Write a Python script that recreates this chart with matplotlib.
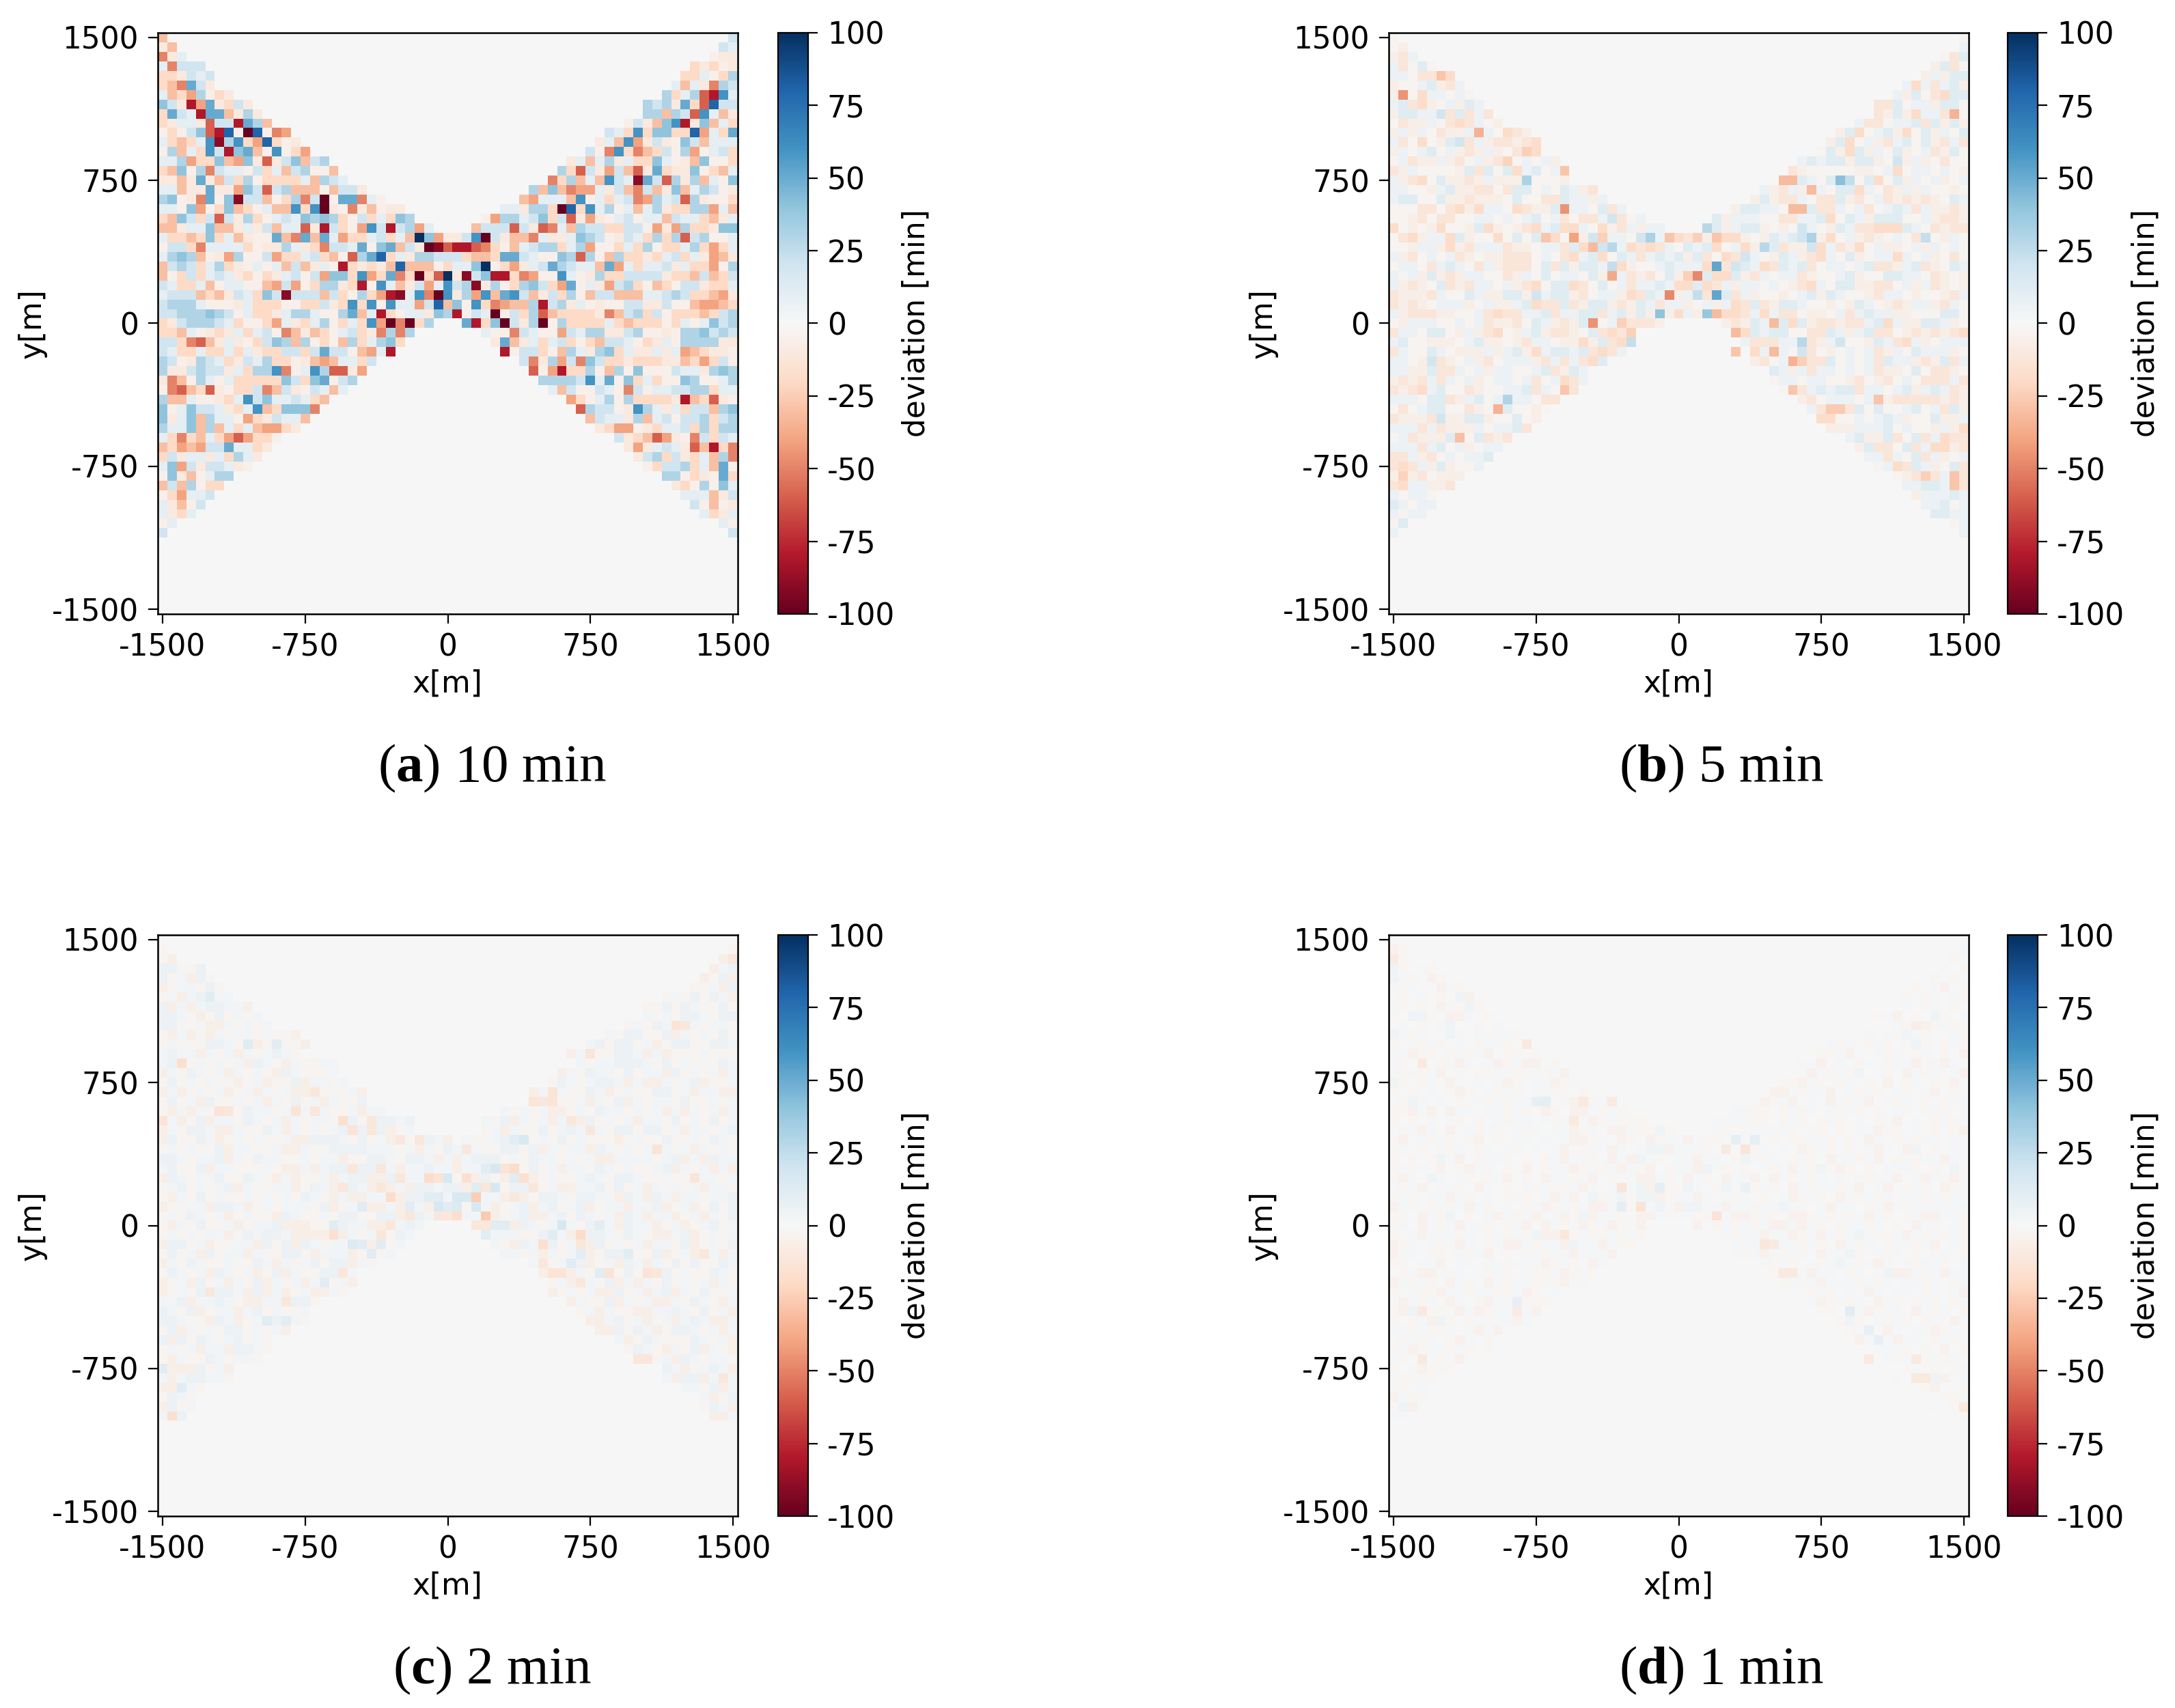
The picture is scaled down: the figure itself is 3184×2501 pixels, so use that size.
import numpy as np
import matplotlib
matplotlib.use("Agg")
import matplotlib.pyplot as plt

# grid of the simulated area: 61 x 61 cells of 50 m
N_CELLS = 61
EXTENT = [-1525, 1525, -1525, 1525]
POS_TICKS = [-1500, -750, 0, 750, 1500]
POS_LABELS = ["-1500", "-750", "0", "750", "1500"]
CBAR_TICKS = [-100, -75, -50, -25, 0, 25, 50, 75, 100]
CAPTIONS = [("a", "10 min"), ("b", "5 min"), ("c", "2 min"), ("d", "1 min")]

# deviation, one letter per cell, top row first
# "left|right" = cells from the left edge and the right edge, '.' = 0
NEG_LEVELS = dict(zip("abcdefghij", [-5, -10, -20, -30, -40, -50, -60, -80, -90, -100]))
POS_LEVELS = dict(zip("ABCDEFGHIJ", [5, 10, 20, 30, 40, 50, 60, 80, 90, 100]))

ROWS_10MIN = [
    "d|C", "bd|CB", "fbB|abb", "BfCCC|cbcab", "ccbCBC|ccBacD", "cdfFCb|BdBbfDC",
    "BdceDacb|DcBDghGB", "ECbheFbcCb|DCDbFcgHCC", "cFCBhFFdbDb|DDdDCgGBdb",
    "cbBBbgCChFDd|aCbdEGhbEdBc", "acaCEghHajHafe|CBcGcEEccHeBcF",
    "BcdcBGiDGceHcab|bBdGebCbaECdBBB", "aDdBcGChEFdaGace|CafGcfdcCaDeaBCc",
    "BBDeccEdeEbgbCEdCD|bBdBDbBccEBabdEaac", "cdEaDfCBBaCcBdCDaad|DcgCbeCdgbFcbbEacdB",
    "bbdbFbdCcDaccccBdDCB|fcDdBdGCBiFCgDbDdBaE", "BBdbbFbbeECgCDdddadCCb|DdEdfeeBbCdfCdbEdBDCab",
    "DEabfFaEiCCdacDfCjaFFfBa|deBBBdGaBcBCfeDBCgDbaac",
    "BBaEeacEdcaBddGcGjbafbdabb|BBbDDcjHcGBDaBdBDbccDDeBd",
    "cdECcCgCbDcaBCBEDEDcaCcBcED|aeDDBCEcCgbebaBCaBBdCBBcdbB",
    "ddbBBEddbBbCdBBgbhCcaeGChCDeB|dCCCgCbgfBdDCCccCCaebeDccbEE",
    "BccdcEcBdbaaFdfFdFBeccBCcBdJEebbCGjCbddfBbbBEDCabCBcDcDgCDaaB",
    "aCCcfBBBBcabbDBbcfCCBFaEFdCbjighhgfcadBCDDcBDeaacBcDaccBDcecB",
    "BDEDdabeDaaCeccBCcdagDFHcBbDDCCCcddcFFCBaaEDgDadDccbcBCcBbedb",
    "dCDCcBDcbaBaBdCdbBahcbcbdHdddacBBEJacebBCFDCBBdFeBcBBCbBcceaD",
    "dacCcBCBbcacbBCaCeEEcGecFfcjcgJbiCEhhcfeaaGBabDccCCCCbccdCdcC",
    "CBccBdaBBaadeCeacDDbchaGBdbCeBGCDibDacDECceFaBbeCDcadcaCCbccB",
    "BCCCdcdbCBcECiCCCdCcaDcehiBGfjGbDeGdFGCdbCcDadCCdddBBCDCccdeb",
    "CDDDBaaabBcccaaccCbcGcGaGBBeCHdEaGcfeddDhCDbBabaaCCbbCaadeedc",
    "CCDDDEDCaBccbBDDBaaDFdBhcaBBbEDhaCBjaCcDgdccccbfdCDcCacccdcCD",
    "cbCDDDCBcaaceBbcBDacBcGejfjcD...FhcEjCbDjaDccccBcdcccacBaBECD",
    "ccdBabcbBcBCafdbdcaBCcbfDfD|BaafCBaaeCBDDbbCDaabaDDECDC",
    "CCcfgdbBbacCEDdDacadDcBDEc|bFdbBcBCcacdCCBacbBaDDDDbb",
    "CBccBccBcBbccCCcCFCCadeBh|haCCcadDBbDEcBbbBbBedcbba",
    "DCabDCBcbCBDccabdedBBcC|CfbDeCfECccbcccbbdcecCa",
    "DbbCDCCbBcDDGfaBGDggbe|gaehccDadDaEaaaCBBbDED",
    "bfdaDBaBcccccECcEFaCD|DDDDCGBFaEcBcaaEDaaBD",
    "afgdcgbaccCfdCbaCBdB|BdCaaCBafCaBBCCDDcBB",
    "DddBaabcBGCEBBCBcd|ecaBDaDccccbhdcgba",
    "EaBECCBbcBGdcEEEf|gDCCabGDBbBcCCdDE",
    "EbBEdDBBaecbCBBd|dCBBbDdBCaCCDcCD",
    "DBBEdDdBcBdeecb|bceeabcBBCcDcDD",
    "BcfcdBcegecca|CbcdgebafCcCB",
    "dcedeCCFBBcb|bebBCBbgdhcf",
    "cCbBBbBcDBb|bCDcCbcBdDf",
    "BEeCbCCBba|acCCDcBdFa",
    "aEbdaBDD|DDacbaFc",
    "dCdDacc|bcaDaEB",
    "aceBBC|BBBdbC",
    "BbdaC|Cadab",
    "BbcB|BcbB",
    "aB|Ba",
    "C|C",
]

ROWS_5MIN = [
    "a|a", "ab|B", "bcB|acC", "BcaCa|bCca", "BBaccbd|bBbCC", "baaBCbcB|BdBcBCb",
    "beadBBaBa|BbCacdCC", "BCcdbaBbCB|ccCaBBbCCa", "bCCBBDcCcBc|cbCbdBBcea",
    "acbbBacdcBab|BccaBBCcCbCb", "bBbBacbbBeBadcb|bCdaBCbdaCbBaC",
    "BcadabCDcBbccbcd|bCdaBbcBCaCbcBc", "bBaBCaBbcbBbacBd|aCbdCbBaCbaBcbCa",
    "aBcbbBbcaBbcdaBaBb|BCBCCbCCbaDbBbacaa", "cbBaaaabCcCaCdBCaBd|cbaaaaabbaBdaBBaBab",
    "BbcdaCbbcbBbbbEaaab|eeCBaCBEaCdaCbBaBbaB", "BBaabBCbbccacCCaBaCBbc|BbcBbeBaCCdBacbBbBaaba",
    "BCCaaCbbcbbbaCaaccCBBbB|bCbccBaccCbcaBcbcbcbaCB", "aaaccacdbdBBadcbbCfBBaCcB|bCCBBaCCCccBaBcaBCBcBbbcb",
    "aabcaccaaBBaBaBCaBcaccBDcaB|CbBBBaaccBBCdaCBbCCCaaBbccb",
    "dababdaabCdbabcdBCddBadbcBbBB|CbBCCbabaDBabCBccdddCBacbcc",
    "acdbBBdCbaadaCaCcdaCbDeBBaDaBCdcDbDddbabCBCDBbdaBbcbaBacDabBa",
    "aabBBbdbcBBBcbbaBBcCdBDdBdcdcBaCBCdaBdbaCcbbDdBcbdaBbbaBbBaBa",
    "BbcaBaBcbabbcccaBacdBCdaCBcBCBCbCcadcDBabCBbcdBaCbaBBdBaBbaca",
    "aBBacBCBacBbcccaCcCbCCBEdbaaBCBBBdccDCBdcCBCcaBBaBCccbBCcbaCB",
    "BaBbCbcbBBaacbBaCaBBaCbcBcbcaCbecCddCbcBaBBcbaaBCbaaCCBBacbab",
    "BbcbaCcbcBBaBbcdaCCdcaCaBcBBCBddCdcBbBBaBabcdBaCCbbccaBbBcbab",
    "cbbbcBaaCBbbCCbDBCCbcaBBbdcCBCbBEcbCcBbaabaBCbCBaabcBBabaabcB",
    "cbcbaBBBbaBbbBCdccCcbCCbcbCBcBBbaBbBdcCcbCCBaababCBabcbBBbcBa",
    "BbcccbbaaBcdccBBCcBBCCcBCbCbCbdBbBCddcBdBccabbaBcBCBBbbaaaCCa",
    "abBBBaaBaBcbbcaCBbcbCaaBecccb|bcbCBBCdCbccbccBCdBbbCCBba",
    "cBBaCCabBbcdabBCbccbaCcdce|cdCBCCaaccCBbBCccabcbcbcd",
    "BCaabbbaBCbbabcBBabbdbCcdE|BcccBBCcbBDaabCBcdBbaBBB",
    "cBaaCBabbbBbBCbdBCCBCcdcB|dBBBaDcabaBaBcbBaCBBBba",
    "BBabDcbaBbcaBBBbcBcBcdC|bcaBDeccCaBaBcCBBbcbCcB",
    "BBbbCccBaBbBBaaBCcbCB|CBbBcBBaBaBcbbaCaccba",
    "bcbcBcBaBbaBBaBcaBdcB|aBBaBBaabcabcaBacccBc",
    "cbcdBCaacbaaBBCcBaBc|aBcBCBCCcBBaBCbBCBcb",
    "BBBaCCcbBCaBCBBacc|bcaBBBaBcbcccccbcb",
    "acaBCCaacbaeCaaba|BcadcCaCaaBCaBcCb",
    "cbbbcDbbCCbaaCab|ddaaBaBCBbaaCbbB",
    "BBBcBcbbbBaBBCc|bbbBBBCaBaabBbd",
    "aBcbbbCaaCcbc|BCbbCcaCcBdcc",
    "BBBcBCaBbaBB|bCccaCcBddbc",
    "ccBbcaBaBBC|BBcBaCcBbaB",
    "cdcBbCbaaB|aBdcCBbaCc",
    "bcbcabbb|abcdcBac",
    "cdBBbbc|BBCCBdc",
    "BaBBa|bBBBCB",
    "CBaBB|BBCaB",
    "BaBB|CCBB",
    "aC|aB",
    "B|B",
]
PEAKS_5MIN = [
    (6, 1, -45), (4, 5, -28), (10, 9, -35), (8, 59, -35), (18, 18, -45), (21, 19, -40),
    (21, 16, -28), (22, 21, -32), (25, 23, -38), (30, 21, -45), (27, 29, -48), (25, 32, -48),
    (24, 34, 52), (27, 34, 52), (29, 28, 40), (29, 33, 38), (29, 34, -32), (15, 47, 42),
    (15, 14, 32), (15, 41, -32), (15, 42, -32), (18, 42, -32), (18, 43, -32), (16, 44, -32),
    (42, 7, -30), (39, 11, -35), (38, 12, 30), (34, 42, -35), (33, 40, -32), (32, 43, 28),
    (33, 36, -28), (31, 36, -32), (30, 40, -32), (37, 18, -28), (37, 42, -28), (38, 51, -28),
    (39, 46, -26), (39, 47, -26), (46, 59, -28), (47, 59, -28), (46, 56, -24), (46, 1, -22),
    (12, 14, -24), (14, 18, -28), (13, 12, -22), (21, 44, 32), (21, 27, 32), (21, 29, -28),
    (21, 32, -24), (21, 34, -28), (20, 33, 28), (22, 39, 28), (22, 23, 28), (21, 56, 24),
]

ROWS_2MIN = [
    "|", "a|a", "ab|bc", "BBaaB|bAB", "BaAbBa|baBb", "baAAaBa|aaAbB",
    "aAbABCAA|aAaBaBAb", "BbAbABBAAb|aaBaBAaaBa", "BBAabaBaAaA|AaAaBBAaBB",
    "BBaaAbbAaAaA|aAaBAbcAaAAa", "abAbabAaAAaAaab|AaBBaaBbAaAaBa", "aAaaaBBAaAbaCaab|ABaBBaAbaBBaaBBA",
    "ABAAbAaAbAaABAa|bAAaaBBAbAbaaaAaaa", "ABcaAaAaAbBAabAaaAA|AaAABBBAaBaAaaaBA",
    "bAaBAaAbAaAabBAaaaA|bAaBAAaBaAAbBaAaAbA", "aBaAaAaabaAbaaBbAAaA|aBAaABBAbAbbAaABbaaA",
    "bAbaAaAbaAbAaAbbcaaaAb|bAaAaaBAbaAaaBBaAbAAbb", "aBaAbBaaAaAbAaBaAbAaaB|bcAaaAbAaBbAaAAaBaaAaA",
    "abAbAaAcaBAAaAaAcAaaAbAA|AaAaAbbaAaBAAaAaAbAbAaAbA", "cAbaBbAAaBAaAbAaAAaBBacBBAB|AaBbAaAbAcbBaAaAbAAaBaAaBaA",
    "bAaBBAbbAaaBAbAaAaABcBcBbaA|aAbAaaBaABAcAaBBaBBaAbAAaAB",
    "bBaaBAbaAaAaaAbbBBBAaBaAbcacBAb.AaaABCbaAaBaAaaabaAaaBaaAaBAa",
    "aAaAaaBbAAaaAbbAaaBBBBAAAaAbAaBAcAaaBBaBbAaAAbBAaAaAbAaAbAaAa",
    "BBAaAABbAaBAAaaAaAAbaaBBAaBBAbAbABBBaAaBAAaAaAbbAAAAaABbAbBAA",
    "ABaaBbAAaaaAabbAbABBcBBcAbAABAAbAACbbAaBaAbAAaBAaAaaABbAaAbAb",
    "bBAaAABaaBAabAbaaAbABBbbBcAAaBcaAbBabCCbaAaaABAaBBAaaAaabAAaA",
    "aABaAaABbAaaAAbaBAbcBAbcbAbBBABBbCcbaBBcaAbbAABaBaAbAaAaAbAAa",
    "abAaBaAaaAaAaAaBAabAbbAAcbBBCCABCdAAbcbaBBAaBBAAbBAbBAbAAaAAB",
    "baaAAbBBAbaAaAAAaBbaACbbAbCAbBCCaCAbaABbABaABbaAAbAABbaAbaBaB",
    "aAaBAaAbaAaabBAaaAaBBaaBBbcBAccdAAdbaABbbABaBAaAbBAbAAbaAbAaB",
    "abAaBaaAbaAABbbbaaCBAAbbcABA.....ccCCbBAaABAaBCAbBAAbaAbaABaA",
    "aAaAaAAbaBABBAbbbbAbAaAcaBA|CAAAaaBCAbcBBAaBAabbABbaAaA",
    "bBBaAbaaAAbBaBbBAaAAaCbCaA|AabBAaBaAcbBaAaAbAAaBbaAaB",
    "aBaAbBaAAbAaaBBabAAAbaCaA|AAaAbAaACbaBBCaaBbaAbcAbA",
    "bAaBAaaAaaBAbAaABaBBbAa|AcaACBbaAbBAbAaBaBaaBA",
    "aBAaAbBAaAbaBbAaaBBcA|bBAbAaCbaBaAcBaAaaBAa",
    "baAbBaAbAaBbAaAbACaAb|aAbcAaBbAbAaBaAaAbAa",
    "baAaBcBBAbBbAbaAbbAa|baAaAbbBaAbABbAaBaaA",
    "AABbAABAabbAAcBBa|bAaaBbAaAbbAaBAabA",
    "BAaBbaAAbABaAaaA|aAbAaabbAABAaBaAb",
    "BBAaabBAbaABBCAa|bbABaAbaAbABAbbA",
    "aBbAaAaBBaAaAb|bbBaBAbaBBAaAbA",
    "BbBaBAaABaAa|AbaBAaaaBAaAb",
    "aAaAbAAbBBAa|aBAabAaBbAab",
    "abAaaBAaAAa|cBaAbBAaAAa",
    "CbbbBaAb|BAbaABAb",
    "AbABBAAa|AbBBbAcA",
    "bbCAa|AAaBbA",
    "aBAa|AbaB",
    "bBaA|aBAb",
    "AcB|bbA",
]
PEAKS_2MIN = [
    (27, 33, -25), (29, 34, -26), (27, 24, -18), (25, 28, -18), (25, 29, -14), (25, 30, 16),
    (25, 32, -16), (27, 31, 15), (27, 32, 15), (28, 29, 16), (28, 33, 16), (28, 31, 14),
    (24, 35, 16), (26, 35, 16), (24, 37, -18), (24, 36, -13), (25, 38, -16), (21, 38, 15),
    (30, 42, 16), (31, 44, -20), (32, 40, -16), (35, 41, -14), (35, 42, -14), (35, 47, -14),
    (35, 51, -14), (19, 19, -16), (20, 20, -14), (18, 6, -14), (18, 14, -14), (13, 2, -16),
    (19, 0, -14), (31, 18, -16), (32, 20, 14), (50, 1, -16), (9, 54, -14), (12, 45, -12),
    (22, 52, -14), (25, 56, -12), (17, 39, -12), (16, 41, -14), (17, 41, -12), (6, 5, 12),
    (11, 9, 12), (40, 11, 11), (44, 51, -12),
]

ROWS_1MIN = [
    "|", "ba|.A", "Ba.|a.", "Ba.Aa|.A.a", "BAa.ba|.a.a.", "AaA..bAa|a.Ab.a",
    ".a.A.a.Bb.|.a.aA.Aa", "Aa.a.bAaBa|.A.aA.a.", "a.BBa.bbA.a|aAb.a.Ba.A",
    ".A.a.AB..a.A|..AaAbaAaa", "BAaA..BA.AaAAa|.A.AaBAa..Aa", "a.AaAa.A.aAAa.b|AaA.aAa.aBa.aAa",
    "AAbaa.aAaAb.aa.a|aaAb..AaA.aA.a.b", "Aa.c.aAbA.AbaAbb.a|AAb.A.aA.aAAbaAbA.",
    "AaAaAb.A.aaAAaaAaAb|.bAaAaB.Aa.bAaA.Ab", "Ba.aA.bA.A.Aba.AAbaA|aabAa.aA.a.b.aA.a.b.",
    "a.a.A.aba.AaAa.AAaa.a.|bbAaAAb.AaAa.Aa.Ab.a.", ".aBA.A.a.AaAaAA.C.AbaaAc|.baAb.A.bAaAb.AaA.a.aAA",
    "aabAb.bAA.AAaAa.ba.bbAaAa.|AAaa.aAaA.AaAa.a.Aa.aAa.A",
    "a.a.A.Aa.a.AaAA.AaAbAbaAaaa|AAAAaa.aAa.aAa.A.aAb.A.aAaA",
    ".aAbA.b.AaAa.AaA.AAbaA.bbAaaBa.|Aa.aAAAAa.Aa.a.AAbaa.A.a.ab",
    "ab.AaAa.ab.a.AA.A.AbbaA.ba.baAAbAaa.CAA.a.aaAAa.a.bA.aAaAA.A",
    "aA.a.AaA.aA.Aa.A.Ab.aAAbA.ABBbAAAa.c.AaA.A.baAa.a.AbA.bB.a.A",
    "a.a.aBAb.aAAa.a.aAbAAa.bAbBAa.AAbAA.aBAaA.aAa.bAAaAb.aAaAAbA",
    "aAaA.b.abAA.a.b.aAAbaAaAbAab.aAAbBAa.a.AaAbAaBaba.a.AAAa.a.B",
    "abA.BA.Aa.aAb.a.bAAaAb.a.AbbAa.bAa.bAAb.bAaAaA.A.AaAAb.AbAab",
    ".aAb.AAa.bA.a.AaAaaAbA.AbABbAaaBA.aBABaAa.bAaAAaAb.Ab.aAa.ba",
    "aAa.AAbAa.A.aAa.AbAb.BaABaBBbaAAbA.AaA.a.AbaAa.bAaAaA.AAaAaA",
    "bAa.aAaAbAa.A.aAbaAaAbbAbaAABAbBBAAbAAaAABAa.AbAA.aAbAaAAAAAA",
    "aa.bAaB.a.AbAaAbAAbaBbAAa.bbAaAAaaaAbbaAa.bbaAa.aAbAa.aAbbAAa",
    "aA.bAaAbAAa.aAb.bAaAbaAbaAb.....b.aAaAaAbbAbAa.aAAaA.a.bAa.Aa",
    "a.AbAAAaA.aAaAaBbbAaAaaAaAa|AaAAbAAbaAbAaABAaaAbAaAaAa",
    "baA.AaAbA.aAbbAaAAbBAAbAaa|AAAbcAAaAa.bAaA.aAAaAb.Aa",
    "bAA.aa.AaAb.a.aAaAAbAAAb.|AaAbAaAa.bAABa.AaA.a.aA.a",
    "aa.AAb.AA.AAaAAAbaAa.bA|AaAa.AaABAaAbA.AaAAa.A",
    ".aAbbAaA.AaAa.AaaAbaAa|aAbAbAA.aA.ABbbAaAbAA",
    "bAaAa.bAa.bAaAAaaabAa|aAaAbAAAaAaA.AAaA.aA",
    "a.AaabAAaAAaaAba.A|.aAa.A.bA.AA.aA.Ab",
    ".bAaA.bA.abAABaaa|AbaAaA.bAa.aAa.aA",
    "abB.aa.bAbaAABAb|aa.aAbaAA.bAaA.a",
    "a.aAbBa.aAaAAbA|.aBa.AaAa.aA.b.",
    "AAaAaaA.AbAb.|aAa.bA.AAbaA.",
    ".aAaA.abA.a|bABAbAA.aAa.",
    "aAbaAAaAa.a|.AAAa.a.b.a",
    "Aa.aAaAb|.AaA.aAaA.",
    "a.AbaAa|.aA.a.aA",
    "AaaAa|A.c.Bb.A",
    "Aa.A|.ab..a",
    "bAaa|.aaA",
    "aBb.|A.a.",
    "AA|.a",
]
PEAKS_1MIN = [
    (11, 14, -10), (29, 34, -14), (28, 26, -14), (26, 24, -12), (26, 28, 10), (28, 24, 9),
    (22, 37, -12), (21, 38, 9), (17, 20, -10), (17, 15, 8), (19, 19, -10), (31, 18, -11),
    (32, 39, -11), (39, 48, 11), (35, 42, -10), (35, 41, -10), (42, 51, 8), (41, 50, 8),
    (44, 50, -10), (44, 55, -10), (46, 55, -10), (46, 56, -10), (49, 60, -10), (44, 3, -10),
    (39, 3, -10), (38, 13, 8), (39, 13, -8), (2, 0, -8), (9, 55, -7), (26, 37, 7),
]

# the letters of the faint panels were read against a narrower colour range
GAINS = [1.0, 0.6, 0.55, 0.45]


def decode(rows, peaks=(), gain=1.0):
    levels = {**NEG_LEVELS, **POS_LEVELS}
    grid = np.zeros((N_CELLS, N_CELLS))
    for i, row in enumerate(rows):
        left, _, right = row.partition("|")
        left = left[:N_CELLS]
        right = right[:N_CELLS - len(left)]
        for j, ch in enumerate(left):
            grid[i, j] = levels.get(ch, 0) * gain
        for j, ch in enumerate(reversed(right)):
            grid[i, N_CELLS - 1 - j] = levels.get(ch, 0) * gain
    for i, j, value in peaks:
        grid[i, j] = value
    return grid


panels = [decode(ROWS_10MIN, gain=GAINS[0]), decode(ROWS_5MIN, PEAKS_5MIN, GAINS[1]),
          decode(ROWS_2MIN, PEAKS_2MIN, GAINS[2]), decode(ROWS_1MIN, PEAKS_1MIN, GAINS[3])]

plt.rcParams["font.family"] = "DejaVu Sans"
plt.rcParams["axes.unicode_minus"] = False
plt.rcParams["mathtext.fontset"] = "custom"
plt.rcParams["mathtext.rm"] = "Liberation Serif"
plt.rcParams["mathtext.bf"] = "Liberation Serif:bold"

W, H = 3184, 2501
fig = plt.figure(figsize=(W / 100, H / 100), dpi=100)


def box(x0, y0, x1, y1):
    # pixel box (y from the top) to figure fractions
    return [x0 / W, 1 - y1 / H, (x1 - x0) / W, (y1 - y0) / H]


LEFTS = [231, 2033]
CBAR_LEFTS = [1139, 2939]
CAPTION_X = [720, 2520]
TOPS = [48, 1369]
SIZE_X = 849
SIZE_Y = 851
FS = 31.5

for k, data in enumerate(panels):
    x0 = LEFTS[k % 2]
    y0 = TOPS[k // 2]
    ax = fig.add_axes(box(x0, y0, x0 + SIZE_X, y0 + SIZE_Y))
    im = ax.imshow(data, cmap="RdBu", vmin=-100, vmax=100, extent=EXTENT,
                   origin="upper", interpolation="nearest", aspect="auto")
    ax.set_xticks(POS_TICKS, POS_LABELS)
    ax.set_yticks(POS_TICKS, POS_LABELS)
    ax.tick_params(labelsize=FS, length=10, width=1.6, pad=10)
    ax.set_xlabel("x[m]", fontsize=FS, labelpad=7)
    ax.set_ylabel("y[m]", fontsize=FS, labelpad=5)
    for sp in ax.spines.values():
        sp.set_linewidth(1.8)

    cx0 = CBAR_LEFTS[k % 2]
    cax = fig.add_axes(box(cx0, y0, cx0 + 44, y0 + SIZE_Y))
    cb = fig.colorbar(im, cax=cax, ticks=CBAR_TICKS)
    cb.ax.set_yticklabels([str(t) for t in CBAR_TICKS])
    cb.ax.tick_params(labelsize=FS, length=10, width=1.6, pad=10)
    cb.outline.set_linewidth(1.6)
    cb.set_label("deviation [min]", fontsize=FS, labelpad=7)

    letter, label = CAPTIONS[k]
    fig.text(CAPTION_X[k % 2] / W, 1 - (y0 + 1077) / H,
             "($\\mathbf{%s}$) %s" % (letter, label),
             family="Liberation Serif", fontsize=57, ha="center", va="center")

fig.savefig("out.png", dpi=100)
